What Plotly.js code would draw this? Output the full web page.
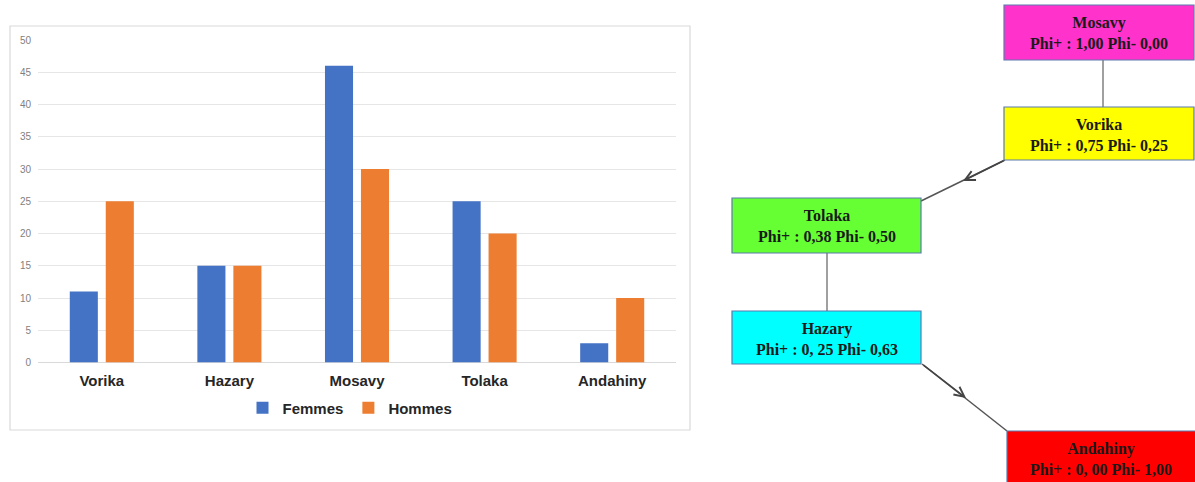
<!DOCTYPE html>
<html>
<head>
<meta charset="utf-8">
<script src="https://cdn.plot.ly/plotly-3.0.1.min.js"></script>
<style>html,body{margin:0;padding:0;background:#fff;}#chart{width:1195px;height:482px;}</style>
</head>
<body>
<div id="chart"></div>
<script>
// ---- Data ----
const categories = ["Vorika", "Hazary", "Mosavy", "Tolaka", "Andahiny"];
const femmes = [11, 15, 46, 25, 3];
const hommes = [25, 15, 30, 20, 10];
const seriesNames = ["Femmes", "Hommes"];

const nodeNames = ["Mosavy", "Vorika", "Tolaka", "Hazary", "Andahiny"];
const phiPlus = ["1,00", "0,75", "0,38", "0, 25", "0, 00"];
const phiMinus = ["0,00", "0,25", "0,50", "0,63", "1,00"];
const nodeColors = ["#FF33CC", "#FFFF00", "#66FF33", "#00FFFF", "#FF0000"];

// ---- Layout helpers (pixel -> paper) ----
const W = 1195, H = 482;
const px = x => x / W;
const py = y => 1 - y / H;

// node box geometry (pixels)
const boxes = [
  {x0: 1004, x1: 1194, y0: 5, y1: 60},
  {x0: 1004, x1: 1194, y0: 107, y1: 160},
  {x0: 732, x1: 921, y0: 198, y1: 253},
  {x0: 732, x1: 921, y0: 311, y1: 364},
  {x0: 1007, x1: 1196, y0: 431, y1: 486}
];

const shapes = [];
const annotations = [];

// chart frame
shapes.push({type: 'rect', xref: 'paper', yref: 'paper',
  x0: px(10), x1: px(690), y0: py(430), y1: py(26),
  line: {color: '#d9d9d9', width: 1.2}, fillcolor: 'rgba(0,0,0,0)', layer: 'below'});

// connectors
const lineGray = '#808080';
shapes.push({type: 'line', xref: 'paper', yref: 'paper', x0: px(1103), x1: px(1103), y0: py(60), y1: py(107), line: {color: lineGray, width: 1.5}});
shapes.push({type: 'line', xref: 'paper', yref: 'paper', x0: px(827), x1: px(827), y0: py(253), y1: py(311), line: {color: lineGray, width: 1.5}});
shapes.push({type: 'line', xref: 'paper', yref: 'paper', x0: px(1005), x1: px(921), y0: py(160), y1: py(201), line: {color: '#555', width: 1.5}});
shapes.push({type: 'line', xref: 'paper', yref: 'paper', x0: px(922), x1: px(1007), y0: py(364), y1: py(431), line: {color: '#555', width: 1.5}});

// arrowheads in middle
annotations.push({xref: 'paper', yref: 'paper', axref: 'paper', ayref: 'paper',
  x: px(963), y: py(181), ax: px(1005), ay: py(160), text: '', showarrow: true,
  arrowhead: 5, arrowsize: 1.3, arrowwidth: 1.5, arrowcolor: '#444'});
annotations.push({xref: 'paper', yref: 'paper', axref: 'paper', ayref: 'paper',
  x: px(966), y: py(398), ax: px(922), ay: py(364), text: '', showarrow: true,
  arrowhead: 5, arrowsize: 1.3, arrowwidth: 1.5, arrowcolor: '#444'});

// node boxes + labels
nodeNames.forEach((n, i) => {
  const b = boxes[i];
  shapes.push({type: 'rect', xref: 'paper', yref: 'paper',
    x0: px(b.x0), x1: px(b.x1), y0: py(b.y1), y1: py(b.y0),
    fillcolor: nodeColors[i], line: {color: '#5b7bb0', width: 1.2}});
  annotations.push({xref: 'paper', yref: 'paper',
    x: px((b.x0 + Math.min(b.x1, 1194)) / 2), y: py(b.y0 + 28), xanchor: 'center', yanchor: 'middle',
    text: '<b>' + n + '<br>Phi+ : ' + phiPlus[i] + ' Phi- ' + phiMinus[i] + '</b>',
    showarrow: false, align: 'center',
    font: {family: 'Liberation Serif, Times New Roman, serif', size: 16, color: '#1a1a1a'}});
});

const data = [
  {type: 'bar', name: seriesNames[0], x: categories, y: femmes, marker: {color: '#4472C4'}},
  {type: 'bar', name: seriesNames[1], x: categories, y: hommes, marker: {color: '#ED7D31'}}
];

const layout = {
  width: W, height: H,
  margin: {l: 0, r: 0, t: 0, b: 0},
  paper_bgcolor: '#fff', plot_bgcolor: '#fff',
  barmode: 'group', bargap: 0.436, bargroupgap: 0.22,
  showlegend: true,
  legend: {orientation: 'h', x: px(350), xanchor: 'center', y: py(408), yanchor: 'middle',
    itemwidth: 30,
    font: {family: 'Liberation Sans, Arial, sans-serif', size: 15, color: '#262626', weight: 'bold'}},
  xaxis: {domain: [px(38), px(676)], showgrid: false, showline: false, zeroline: false,
    ticks: '', ticklabelstandoff: 7,
    tickfont: {family: 'Liberation Sans, Arial, sans-serif', size: 15, color: '#262626', weight: 'bold'}},
  yaxis: {domain: [py(362.5), py(40)], range: [0, 50], dtick: 5, tick0: 0,
    showgrid: true, gridcolor: '#e6e6e6', gridwidth: 1, zeroline: true, zerolinecolor: '#d9d9d9', zerolinewidth: 1,
    showline: false, ticks: '', ticklabelstandoff: 6,
    tickfont: {family: 'Liberation Sans, Arial, sans-serif', size: 10, color: '#7f7f7f'}},
  shapes: shapes,
  annotations: annotations,
  hovermode: false
};

Plotly.newPlot('chart', data, layout, {displayModeBar: false, staticPlot: true});
</script>
</body>
</html>
